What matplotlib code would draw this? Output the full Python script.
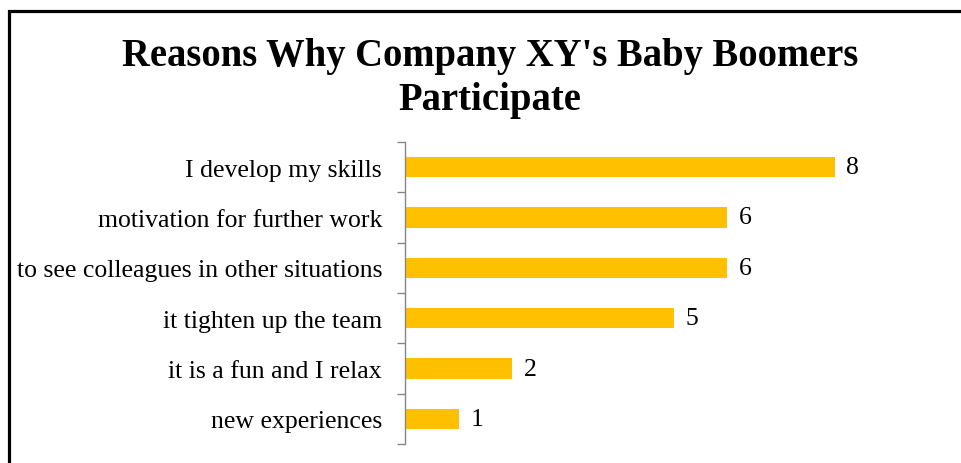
import matplotlib
matplotlib.use("Agg")
import matplotlib.pyplot as plt
from matplotlib.patches import Rectangle
import numpy as np

categories = ["I develop my skills", "motivation for further work",
              "to see colleagues in other situations", "it tighten up the team",
              "it is a fun and I relax", "new experiences"]
values = [8, 6, 6, 5, 2, 1]
title_lines = ["Reasons Why Company XY's Baby Boomers", "Participate"]

W, H = 962, 464
fig = plt.figure(figsize=(W / 100, H / 100), dpi=100)
fig.patch.set_facecolor("white")

ax = fig.add_axes([405 / W, 1 - 445 / H, (942 - 405) / W, (445 - 143) / H])
n = len(categories)
y = np.arange(n)
ax.barh(y, values, height=0.4, color="#FFC000")
ax.set_ylim(n - 0.5, -0.5)
ax.set_xlim(0, 10)

serif = ["Liberation Serif", "DejaVu Serif"]
fs = 18.5
for yi, v in zip(y, values):
    ax.text(v + 0.22, yi, str(v), va="center", ha="left", fontsize=fs, family=serif)

ax.set_yticks(np.arange(-0.5, n, 1))
ax.set_yticklabels([])
ax.tick_params(axis="y", which="major", length=5.8, width=1, color="#868686")
ax.set_yticks(y, minor=True)
ax.set_yticklabels(categories, minor=True, fontsize=fs, family=serif)
ax.tick_params(axis="y", which="minor", length=0, pad=16.5)
ax.set_xticks([])
for s in ["top", "right", "bottom"]:
    ax.spines[s].set_visible(False)
ax.spines["left"].set_color("#868686")
ax.spines["left"].set_linewidth(1)

fig.text(490 / W, 1 - 66 / H, title_lines[0], ha="center", va="baseline",
         fontsize=27.8, fontweight="bold", family=serif)
fig.text(490 / W, 1 - 110 / H, title_lines[1], ha="center", va="baseline",
         fontsize=27.8, fontweight="bold", family=serif)

fig.add_artist(Rectangle((8.5 / W, -0.1), 1.2, 1 - 11.5 / H + 0.1,
                         transform=fig.transFigure, fill=False,
                         edgecolor="black", linewidth=2.3))

fig.savefig("out.png", dpi=100)
